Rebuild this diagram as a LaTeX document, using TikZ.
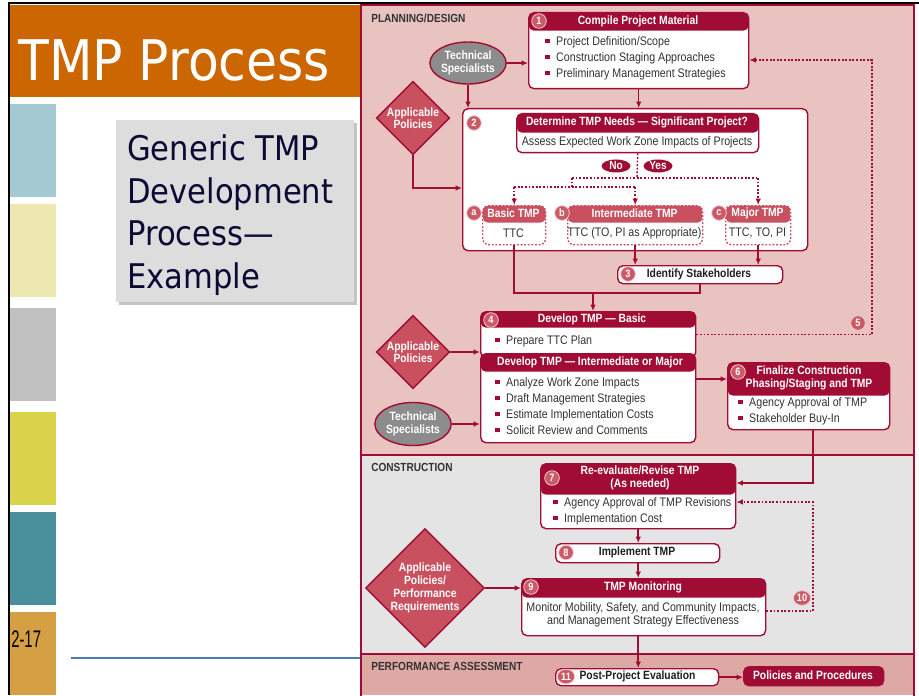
\documentclass[tikz,border=0pt]{standalone}
\usepackage{fontspec}
\setmainfont{Liberation Sans}
\newfontfamily\dfont[FakeStretch=0.86]{Liberation Sans}
\newfontfamily\tfont[FakeStretch=0.9]{DejaVu Sans}
\newfontfamily\nfont[FakeStretch=0.62]{Liberation Sans}
\usetikzlibrary{shapes.geometric,arrows.meta,calc}

\definecolor{dred}{HTML}{A00C34}
\definecolor{mred}{HTML}{C9515F}
\definecolor{numred}{HTML}{CC5A66}
\definecolor{pinkbg}{HTML}{E8C3C0}
\definecolor{graybg}{HTML}{E4E4E4}
\definecolor{perfbg}{HTML}{DEA9A5}
\definecolor{ellgray}{HTML}{8C8C8C}
\definecolor{txt}{HTML}{333333}
\definecolor{orangebar}{HTML}{CC6600}
\definecolor{sqa}{HTML}{A3CAD3}
\definecolor{sqb}{HTML}{ECE8B0}
\definecolor{sqc}{HTML}{C0C0C0}
\definecolor{sqd}{HTML}{D9D24A}
\definecolor{sqe}{HTML}{4A909C}
\definecolor{sqf}{HTML}{D5A044}
\definecolor{navy}{HTML}{0A0A35}
\definecolor{gbox}{HTML}{DDDDDD}
\definecolor{gshadow}{HTML}{C4C4C4}
\definecolor{blueline}{HTML}{4A7EBB}

\newcommand\bul{\textcolor{dred}{\rule[1.7pt]{3.2pt}{3.2pt}}\hspace{5pt}}

\tikzset{
  sz/.style 2 args={minimum width={#1*0.75pt}, minimum height={#2*0.75pt}},
  card/.style={draw=dred, line width=1.05pt, fill=white, rounded corners=4pt, inner sep=0pt, anchor=north west},
  hdr/.style={path picture={\fill[dred] (path picture bounding box.north west) rectangle ([yshift={-#1*0.75pt}]path picture bounding box.north east);}},
  subcard/.style={draw=mred, line width=1.05pt, dash pattern=on 1.4pt off 1.3pt, fill=white, rounded corners=4pt, inner sep=0pt, anchor=north west,
     path picture={\fill[mred] (path picture bounding box.north west) rectangle ([yshift={-17*0.75pt}]path picture bounding box.north east);}},
  numc/.style={circle, fill=numred, draw=white!70!numred, line width=0.6pt, inner sep=0pt, minimum size=11pt, text=white, font=\dfont\bfseries\fontsize{8}{8}\selectfont},
  numw/.style={numc, ellipse, minimum width=13pt, minimum height=11pt},
  hdrt/.style={text=white, font=\dfont\bfseries\fontsize{9}{9.4}\selectfont, inner sep=0pt, align=center},
  bodyt/.style={text=txt, font=\dfont\fontsize{9.3}{12}\selectfont, inner sep=0pt, align=left, anchor=west},
  boldt/.style={text=black!88, font=\dfont\bfseries\fontsize{9}{10}\selectfont, inner sep=0pt},
  bandt/.style={text=txt, font=\dfont\bfseries\fontsize{8.8}{9}\selectfont, anchor=west, inner sep=0pt},
  ellip/.style={ellipse, fill=ellgray, draw=dred, line width=1.05pt, inner sep=0pt, text=white, align=center, font=\dfont\bfseries\fontsize{9}{9.2}\selectfont},
  diam/.style={diamond, fill=mred, draw=dred, line width=1.05pt, inner sep=0pt, text=white, align=center, font=\dfont\bfseries\fontsize{9}{9.2}\selectfont},
  yn/.style={ellipse, fill=dred, inner sep=0pt, sz={29}{13}, text=white, font=\dfont\bfseries\fontsize{8.8}{9}\selectfont},
  lnk/.style={draw=dred, line width=1.1pt},
  conn/.style={lnk, -{Latex[length=4.8pt,width=4.2pt]}},
  dotl/.style={lnk, dash pattern=on 1.4pt off 1.3pt},
  dotconn/.style={dotl, -{Latex[length=4.8pt,width=4.2pt]}},
}

\begin{document}
\begin{tikzpicture}[x=0.75pt,y=-0.75pt]
\useasboundingbox (0,0) rectangle (919,695);
\fill[white] (0,0) rectangle (919,695);

% ---------- left slide panel ----------
\fill[orangebar] (10,5) rectangle (361,97);
\fill[sqa] (10,104) rectangle (56,197);
\fill[sqb] (10,204) rectangle (56,297);
\fill[sqc] (10,308) rectangle (56,401);
\fill[sqd] (10,412) rectangle (56,505);
\fill[sqe] (10,512) rectangle (56,605);
\fill[sqf] (10,612) rectangle (56,695);
\draw[black, line width=1.5pt] (9,695) -- (9,3.5) -- (919,3.5);
\node[anchor=base west, inner sep=0pt, text=white, font=\tfont\fontsize{42}{42}\selectfont] (title) at (18,81) {TMP Process};
\fill[gshadow] (119,123) rectangle (357,305);
\fill[gbox] (116,120) rectangle (354,302);
\node[anchor=north west, inner sep=0pt, align=left, text=navy, font=\tfont\fontsize{25.5}{32.2}\selectfont] (gen) at (127,134) {Generic TMP\\Development\\Process—\\Example};
\draw[blueline, line width=1.1pt] (71,658) -- (361,658);
\node[anchor=base west, inner sep=0pt, font=\nfont\fontsize{18}{18}\selectfont] (pg) at (11,647) {2-17};

% ---------- diagram bands ----------
\fill[pinkbg] (361,5) rectangle (914,455);
\fill[graybg] (361,455) rectangle (914,654);
\fill[perfbg] (361,654) rectangle (914,695);
\draw[dred, line width=1pt] (361,696) -- (361,5) -- (914,5) -- (914,696);
\draw[dred, line width=1pt] (361,455) -- (914,455) (361,654) -- (914,654);
\node[bandt] (lp) at (371,18) {PLANNING/DESIGN};
\node[bandt] (lc) at (371,467) {CONSTRUCTION};
\node[bandt] (la) at (371,666) {PERFORMANCE ASSESSMENT};

% ---------- step 1 ----------
\node[card, sz={220}{76}, hdr=18] (b1) at (528,12) {};
\node[hdrt] (b1h) at (638,21) {Compile Project Material};
\node[bodyt] (b1t) at (545,58) {\bul Project Definition/Scope\\\bul Construction Staging Approaches\\\bul Preliminary Management Strategies};

\node[ellip, sz={72}{42}] (ts1) at (468,63) {Technical\\Specialists};
\node[diam, sz={72}{72}] (pol1) at (413,118) {Applicable\\Policies};

% ---------- step 2 ----------
\node[card, sz={345}{142}] (b2) at (462,108) {};
\node[card, sz={242}{39}, hdr=19] (b2i) at (516,113) {};
\node[hdrt] (b2h) at (637,122.5) {Determine TMP Needs — Significant Project?};
\node[bodyt, anchor=center] (b2t) at (637,142) {Assess Expected Work Zone Impacts of Projects};
\node[yn] (no) at (616,166) {No};
\node[yn] (yes) at (658,166) {Yes};

\node[subcard, sz={63}{39}] (ba) at (482,205) {};
\node[subcard, sz={135}{39}] (bb) at (567,205) {};
\node[subcard, sz={65}{39}] (bc) at (725,205) {};
\node[hdrt] (bah) at (513.5,213.5) {Basic TMP};
\node[bodyt, anchor=center] (bat) at (513.5,233) {TTC};
\node[hdrt] (bbh) at (634.5,213.5) {Intermediate TMP};
\node[bodyt, anchor=center] (bbt) at (634.5,233) {TTC (TO, PI as Appropriate)};
\node[hdrt] (bch) at (757.5,213.5) {Major TMP};
\node[bodyt, anchor=center] (bct) at (757.5,233) {TTC, TO, PI};

% ---------- step 3 ----------
\node[card, sz={165}{18}] (b3) at (617,265) {};
\node[boldt] (b3t) at (699,274) {Identify Stakeholders};

% ---------- step 4 ----------
\node[card, sz={215}{46}, hdr=16] (b4a) at (480,311) {};
\node[card, sz={215}{89}, hdr=18] (b4b) at (480,353) {};
\node[hdrt] (b4ah) at (592,319) {Develop TMP — Basic};
\node[bodyt] (b4at) at (495,341) {\bul Prepare TTC Plan};
\node[hdrt] (b4bh) at (590,362) {Develop TMP — Intermediate or Major};
\node[bodyt] (b4bt) at (495,406) {\bul Analyze Work Zone Impacts\\\bul Draft Management Strategies\\\bul Estimate Implementation Costs\\\bul Solicit Review and Comments};
\node[diam, sz={72}{72}] (pol2) at (413,352) {Applicable\\Policies};
\node[ellip, sz={72}{43}] (ts2) at (413,424) {Technical\\Specialists};

% ---------- step 6 ----------
\node[card, sz={162}{67}, hdr=33] (b6) at (727,362) {};
\node[hdrt] (b6h) at (809,378) {Finalize Construction\\Phasing/Staging and TMP};
\node[bodyt] (b6t) at (738,411) {\bul Agency Approval of TMP\\\bul Stakeholder Buy-In};

% ---------- step 7 ----------
\node[card, sz={195}{65}, hdr=31] (b7) at (540,463) {};
\node[hdrt, font=\dfont\bfseries\fontsize{9}{10.2}\selectfont] (b7h) at (640,478) {Re-evaluate/Revise TMP\\(As needed)};
\node[bodyt] (b7t) at (553,511) {\bul Agency Approval of TMP Revisions\\\bul Implementation Cost};

% ---------- step 8 ----------
\node[card, sz={164}{19}] (b8) at (555,543) {};
\node[boldt] (b8t) at (637,552.5) {Implement TMP};

% ---------- step 9 ----------
\node[card, sz={244}{57}, hdr=19] (b9) at (521,578) {};
\node[hdrt] (b9h) at (643,587) {TMP Monitoring};
\node[bodyt, align=center, anchor=center, font=\dfont\fontsize{9.3}{9.8}\selectfont] (b9t) at (643,614.5) {Monitor Mobility, Safety, and Community Impacts,\\and Management Strategy Effectiveness};
\node[diam, sz={114}{110}, font=\dfont\bfseries\fontsize{9}{9.7}\selectfont] (pol3) at (425,588) {Applicable\\Policies/\\Performance\\Requirements};

% ---------- step 11 ----------
\node[card, sz={163}{17}] (b11) at (555,668) {};
\node[boldt] (b11t) at (637.5,676.5) {Post-Project Evaluation};
\node[card, fill=dred, sz={140}{19}] (bpp) at (743,666) {};
\node[hdrt] (bppt) at (813,675.5) {Policies and Procedures};

% ---------- connectors ----------
\draw[conn] (ts1.east) -- (ts1.east -| b1.west);
\draw[conn] (ts1.south) -- (ts1.south |- b2.north);
\draw[conn] (b1.south) -- (b1.south |- b2.north);
\draw[conn] (pol1.south) |- ([yshift=-60pt]b2.north west);

\coordinate (d1) at (637,178);
\coordinate (d2) at (572,178);
\coordinate (d3) at (572,187);
\draw[dotl] (b2i.south) -- (d1);
\draw[dotl] (d2) -- (d1 -| bc.north);
\draw[dotconn] (d1 -| bc.north) -- (bc.north);
\draw[dotl] (d2) -- (d3);
\draw[dotl] (d3 -| ba.north) -- (d3 -| bb.north);
\draw[dotconn] (d3 -| ba.north) -- (ba.north);
\draw[dotconn] (d3 -| bb.north) -- (bb.north);

\draw[conn] (bb.south) -- (bb.south |- b3.north);
\draw[conn] (bc.south) -- (bc.south |- b3.north);
\coordinate (jn) at (593,293);
\draw[lnk] (ba.south) |- (b3.south |- jn) -- (b3.south);
\draw[conn] (jn) -- (jn |- b4a.north);

\draw[conn] (pol2.east) -- (pol2.east -| b4a.west);
\draw[conn] (ts2.east) -- (ts2.east -| b4b.west);
\coordinate (r5) at (872,60);
\draw[dotconn] (b4a.east) -| (r5) -- (r5 -| b1.east);

\coordinate (y6) at (0,379);
\draw[conn] (b4b.east |- y6) -- (b6.west |- y6);
\coordinate (y7) at (813,483);
\draw[conn] (b6.south -| y7) -- (y7) -- (y7 -| b7.east);

\draw[conn] (b7.south) -- (b7.south |- b8.north);
\draw[conn] (b7.south |- b8.south) -- (b7.south |- b9.north);
\draw[conn] (pol3.east) -- (pol3.east -| b9.west);
\coordinate (r10a) at (813,611);
\coordinate (r10b) at (813,502);
\draw[dotconn] (b9.east |- r10a) -- (r10a) -- (r10b) -- (r10b -| b7.east);
\draw[conn] (b7.south |- b9.south) -- (b7.south |- b11.north);
\draw[conn] (b11.east) -- (b11.east -| bpp.west);

% ---------- number badges ----------
\node[numc] (n1) at (539,21) {1};
\node[numc] (n2) at (474,123) {2};
\node[numc] (na) at (474,213) {a};
\node[numc] (nb) at (562,213) {b};
\node[numc] (nc) at (719,213) {c};
\node[numc] (n3) at (628,274) {3};
\node[numc] (n4) at (491,320) {4};
\node[numc] (n5) at (858,323) {5};
\node[numc] (n6) at (738,372) {6};
\node[numc] (n7) at (552,478) {7};
\node[numc] (n8) at (566,552.5) {8};
\node[numc] (n9) at (531,587) {9};
\node[numw] (n10) at (802,598) {10};
\node[numw] (n11) at (566,676.5) {11};
\end{tikzpicture}
\end{document}
